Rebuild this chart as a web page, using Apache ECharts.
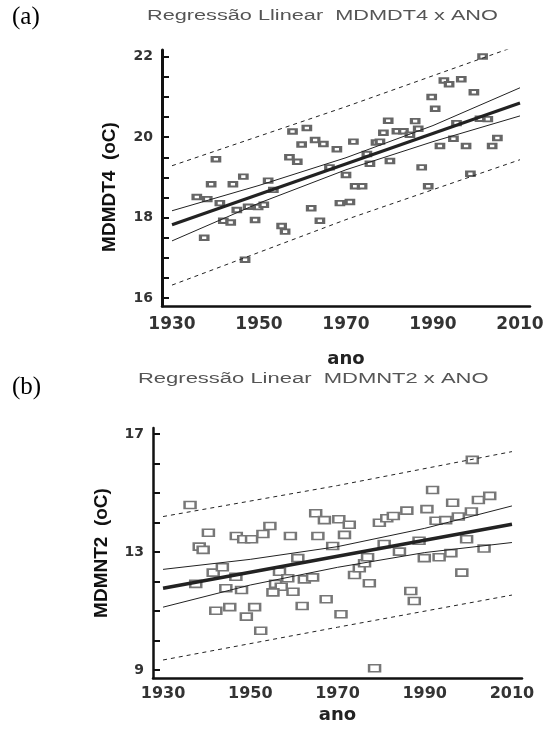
<!DOCTYPE html>
<html>
<head>
<meta charset="utf-8">
<script src="https://cdn.jsdelivr.net/npm/echarts@6/dist/echarts.min.js"></script>
<style>
html,body{margin:0;padding:0;background:#fff;}
#c{width:555px;height:732px;}
</style>
</head>
<body>
<div id="c"></div>
<script>
// ---------- Chart (a): MDMDT4 x ANO ----------
const yearsA = [2001.4,1992.5,1993.7,1996.5,1999.4,1989.7,1990.5,1979.7,1985.9,1986.6,1961.0,1978.6,1981.7,1983.2,1984.7,1995.4,2000.8,2002.6,1959.8,1962.9,1964.8,1967.9,1971.7,1976.9,1977.8,1991.6,1994.7,1997.6,2003.6,2004.8,1974.8,1966.2,1975.5,1980.1,1958.8,1970.0,1987.4,1972.1,1973.7,1988.9,1998.6,1962.0,1964.0,1968.6,1970.9,1935.7,1938.1,1939.0,1937.4,1941.0,1944.0,1946.4,1941.8,1943.5,1944.9,1947.5,1949.1,1949.8,1951.1,1952.1,1953.3,1946.8,1955.2,1956.0,1940.1,1957.7,1957.0];
const valuesA = [22.01,21.41,21.32,21.44,21.12,21.00,20.71,20.41,20.40,20.21,20.23,20.11,20.15,20.15,20.06,20.35,20.46,20.45,19.82,19.93,19.83,19.70,19.89,19.87,19.89,19.78,19.96,19.78,19.78,19.98,19.58,19.25,19.34,19.41,19.39,19.06,19.25,18.78,18.78,18.78,19.09,18.23,17.92,18.36,18.39,18.51,18.46,18.83,17.50,18.36,18.83,19.02,17.92,17.88,18.19,18.27,17.94,18.26,18.32,18.92,18.69,16.95,17.79,17.65,19.45,20.14,19.50];
const fitYearsA = [1930, 2010];
const fitA = [17.82, 20.85];
const confYearsA = [1930, 1950, 1970, 1990, 2010];
const confUpA = [18.17, 18.80, 19.49, 20.29, 21.23];
const confLoA = [17.42, 18.36, 19.19, 19.89, 20.53];
const predYearsA = [1930, 1970, 2010];
const predUpA = [19.29, 20.76, 22.30];
const predLoA = [16.32, 17.95, 19.44];
const yLabelsA = [16, 18, 20, 22];
const yTicksA = [16, 16.5, 17, 17.5, 18, 18.5, 19, 19.5, 20, 20.5, 21, 21.5, 22];

// ---------- Chart (b): MDMNT2 x ANO ----------
const yearsB = [1936.2,1940.4,1938.3,1939.2,1946.8,1948.5,1950.3,1952.9,1954.5,1959.2,1965.5,1965.0,1967.0,1960.9,1968.9,1941.5,1943.6,1937.5,1946.7,1944.4,1948.0,1942.1,1945.3,1949.1,1951.0,1952.4,1956.7,1955.8,1957.1,1955.2,1958.6,1959.8,1962.4,1964.3,1961.9,1967.4,1970.8,1973.9,1975.0,1976.2,1977.3,1978.5,1986.8,1987.6,1998.5,2000.9,1991.8,1996.4,2002.3,2004.9,1970.3,1972.7,1971.6,1979.6,1981.3,1982.8,1985.9,1990.5,1992.6,1994.8,1997.7,2000.7,1980.7,1984.2,1988.7,1976.9,1989.9,1993.3,1996.0,1999.6,2003.6];
const valuesB = [14.59,13.65,13.18,13.07,13.54,13.43,13.43,13.61,13.88,13.54,13.54,14.31,14.08,12.79,13.20,12.30,12.48,11.92,12.16,11.77,11.71,11.01,11.13,10.81,11.13,10.33,12.33,11.92,11.82,11.63,12.11,11.65,12.07,12.14,11.17,11.40,10.89,12.22,12.45,12.62,11.94,9.06,11.68,11.34,12.30,16.12,15.10,14.67,14.76,14.90,14.11,13.92,13.58,13.99,14.14,14.22,14.40,14.45,14.06,14.08,14.20,14.37,13.27,13.01,13.38,12.82,12.79,12.82,12.96,13.43,13.12];
const fitYearsB = [1930, 2010];
const fitB = [11.77, 13.94];
const confYearsB = [1930, 1950, 1970, 1990, 2010];
const confUpB = [12.41, 12.75, 13.18, 13.80, 14.56];
const confLoB = [11.13, 11.88, 12.48, 12.98, 13.32];
const predYearsB = [1930, 1970, 2010];
const predUpB = [14.20, 15.25, 16.40];
const predLoB = [9.34, 10.45, 11.54];
const yLabelsB = [9, 13, 17];
const yTicksB = [9, 10, 11, 12, 13, 14, 15, 16, 17];

const xLabels = [1930, 1950, 1970, 1990, 2010];

const titleA = 'Regressão Llinear  MDMDT4 x ANO';
const titleB = 'Regressão Linear  MDMNT2 x ANO';
const yNameA = 'MDMDT4  (oC)';
const yNameB = 'MDMNT2  (oC)';
const xName = 'ano';

function zip(xs, ys) { return xs.map((x, i) => [x, ys[i]]); }
const plain = v => String(v);

function xAxisCfg(gi, nameGap, labelSize, lw, labelMargin) {
  return {
    type: 'value', gridIndex: gi, min: 1927.7, max: 2012.3,
    name: xName, nameLocation: 'middle', nameGap: nameGap,
    nameTextStyle: { fontFamily: 'DejaVu Sans', fontWeight: 'bold', fontSize: 18, color: '#222' },
    axisLine: { show: true, onZero: false, lineStyle: { color: '#111', width: lw } },
    axisTick: { show: false },
    splitLine: { show: false },
    axisLabel: { customValues: xLabels, formatter: plain, margin: labelMargin, fontFamily: 'DejaVu Sans', fontWeight: 'bold', fontSize: labelSize, color: '#333' }
  };
}
function yAxisCfg(gi, min, max, labels, ticks, name, nameGap, lw, namePad) {
  return {
    type: 'value', gridIndex: gi, min: min, max: max,
    name: name, nameLocation: 'middle', nameGap: nameGap,
    nameTextStyle: { fontFamily: 'Liberation Sans', fontWeight: 'bold', fontSize: 19, color: '#111', padding: namePad },
    axisLine: { show: true, onZero: false, lineStyle: { color: '#111', width: lw } },
    axisTick: { show: true, inside: true, length: 7, customValues: ticks, lineStyle: { color: '#111', width: 2 } },
    splitLine: { show: false },
    axisLabel: { customValues: labels, formatter: plain, margin: 9, fontFamily: 'DejaVu Sans', fontWeight: 'bold', fontSize: 14, color: '#333' }
  };
}
function lineSeries(idx, data, width, type) {
  return {
    type: 'line', xAxisIndex: idx, yAxisIndex: idx, data: data,
    symbol: 'none', showSymbol: false, z: 5, silent: true,
    lineStyle: { color: '#222', width: width, type: type }
  };
}

const chart = echarts.init(document.getElementById('c'), null, { renderer: 'canvas' });
chart.setOption({
  animation: false,
  backgroundColor: '#fff',
  grid: [
    { left: 162, top: 50, right: 25, bottom: 426, containLabel: false },
    { left: 153, top: 428, right: 33, bottom: 54, containLabel: false }
  ],
  xAxis: [ xAxisCfg(0, 44, 17, 2.5, 10), xAxisCfg(1, 28, 16, 2.5, 8) ],
  yAxis: [
    yAxisCfg(0, 15.8, 22.17, yLabelsA, yTicksA, yNameA, 43, 3, [0, 18, 0, 0]),
    yAxisCfg(1, 8.73, 17.2, yLabelsB, yTicksB, yNameB, 42, 2.5, [0, 0, 0, 0])
  ],
  graphic: [
    { type: 'text', x: 12, y: 5, style: { text: '(a)', fontFamily: 'Liberation Serif', fontSize: 25, fill: '#000' } },
    { type: 'text', x: 147, y: 9, scaleX: 1.55, style: { text: titleA, fontFamily: 'Liberation Sans', fontSize: 14, fill: '#555' } },
    { type: 'text', x: 12, y: 375, style: { text: '(b)', fontFamily: 'Liberation Serif', fontSize: 25, fill: '#000' } },
    { type: 'text', x: 138, y: 372, scaleX: 1.57, style: { text: titleB, fontFamily: 'Liberation Sans', fontSize: 14, fill: '#555' } }
  ],
  series: [
    {
      type: 'scatter', xAxisIndex: 0, yAxisIndex: 0, data: zip(yearsA, valuesA),
      symbol: 'rect', symbolSize: [7.5, 4.5], z: 2,
      itemStyle: { color: '#fff', borderColor: '#666', borderWidth: 2.5, opacity: 1 }
    },
    lineSeries(0, zip(fitYearsA, fitA), 3.2, 'solid'),
    lineSeries(0, zip(confYearsA, confUpA), 1, 'solid'),
    lineSeries(0, zip(confYearsA, confLoA), 1, 'solid'),
    lineSeries(0, zip(predYearsA, predUpA), 1, [4, 4]),
    lineSeries(0, zip(predYearsA, predLoA), 1, [4, 4]),
    {
      type: 'scatter', xAxisIndex: 1, yAxisIndex: 1, data: zip(yearsB, valuesB),
      symbol: 'rect', symbolSize: [11, 7], z: 2,
      itemStyle: { color: '#fff', borderColor: '#777', borderWidth: 2, opacity: 1 }
    },
    lineSeries(1, zip(fitYearsB, fitB), 3.5, 'solid'),
    lineSeries(1, zip(confYearsB, confUpB), 1, 'solid'),
    lineSeries(1, zip(confYearsB, confLoB), 1, 'solid'),
    lineSeries(1, zip(predYearsB, predUpB), 1, [4, 4]),
    lineSeries(1, zip(predYearsB, predLoB), 1, [4, 4])
  ]
});
</script>
</body>
</html>
